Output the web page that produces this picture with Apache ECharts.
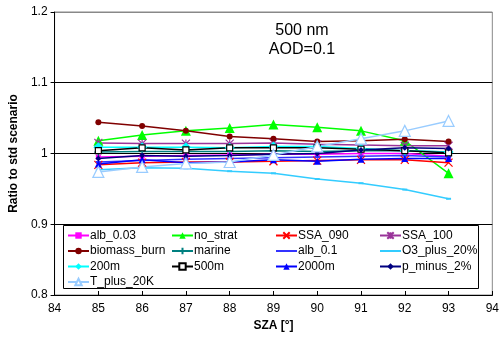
<!DOCTYPE html>
<html><head><meta charset="utf-8">
<script src="https://cdn.jsdelivr.net/npm/echarts@6/dist/echarts.min.js"></script>
<style>html,body{margin:0;padding:0;background:#fff}#c{width:502px;height:346px}</style>
</head><body><div id="c"></div>
<script>
var sza = [85, 86, 87, 88, 89, 90, 91, 92, 93];
var xTicks = [84, 85, 86, 87, 88, 89, 90, 91, 92, 93, 94];
var yTicks = [0.8, 0.9, 1.0, 1.1, 1.2];
var alb003 = [0.995, 0.996, 0.997, 0.998, 0.999, 0.999, 1.000, 1.000, 0.996];
var noStrat = [1.018, 1.026, 1.032, 1.036, 1.041, 1.037, 1.032, 1.018, 0.972];
var ssa090 = [0.984, 0.987, 0.988, 0.988, 0.989, 0.990, 0.991, 0.991, 0.987];
var ssa100 = [1.015, 1.014, 1.014, 1.014, 1.015, 1.013, 1.012, 1.011, 1.011];
var biomass = [1.044, 1.039, 1.032, 1.024, 1.021, 1.017, 1.018, 1.020, 1.017];
var marine = [1.002, 1.003, 1.003, 1.003, 1.004, 1.003, 1.004, 1.004, 1.002];
var alb01 = [0.988, 0.990, 0.992, 0.993, 0.994, 0.995, 0.996, 0.997, 0.995];
var o3plus = [0.977, 0.980, 0.979, 0.975, 0.972, 0.964, 0.958, 0.949, 0.936];
var h200 = [1.009, 1.009, 1.009, 1.008, 1.010, 1.010, 1.007, 1.004, 1.002];
var h500 = [1.004, 1.008, 1.005, 1.008, 1.008, 1.008, 1.006, 1.004, 1.001];
var h2000 = [0.985, 0.991, 0.987, 0.988, 0.991, 0.989, 0.992, 0.993, 0.993];
var pminus = [0.993, 0.997, 0.996, 0.997, 0.999, 1.000, 1.005, 1.008, 1.007];
var tplus = [0.974, 0.981, 0.986, 0.988, 0.998, 1.010, 1.021, 1.032, 1.046];

function pts(arr){ return sza.map(function(x,i){ return [x, arr[i]]; }); }
var X = 'path://M0,0L10,10M10,0L0,10';
var STAR = 'path://M0,0L10,10M10,0L0,10M5,0L5,10';
var PLUS = 'path://M5,0L5,10M0,5L10,5';

function mk(name, arr, color, symbol, size, extra){
  var s = {
    name: name, type: 'line', data: pts(arr), symbol: symbol, symbolSize: size,
    lineStyle: {color: color, width: 1.5},
    itemStyle: {color: color},
    emphasis: {disabled: true}, animation: false
  };
  if (extra) { for (var k in extra) s[k] = extra[k]; }
  return s;
}
var strokeSym = function(color){ return {color: 'none', borderColor: color, borderWidth: 1.2}; };

var series = [
  mk('alb_0.03', alb003, '#ff00ff', 'rect', 5),
  mk('no_strat', noStrat, '#00ff00', 'triangle', 10),
  mk('SSA_090', ssa090, '#ff0000', X, 8, {itemStyle: strokeSym('#ff0000')}),
  mk('SSA_100', ssa100, '#993399', STAR, 8, {itemStyle: strokeSym('#993399')}),
  mk('biomass_burn', biomass, '#800000', 'circle', 6),
  mk('marine', marine, '#008080', PLUS, 8, {itemStyle: strokeSym('#008080')}),
  mk('alb_0.1', alb01, '#3333ff', 'rect', [5, 2]),
  mk('O3_plus_20%', o3plus, '#33ccff', 'rect', [5, 2]),
  mk('200m', h200, '#00ffff', 'diamond', 10),
  mk('500m', h500, '#000000', 'rect', 6, {itemStyle: {color: '#fff', borderColor: '#000', borderWidth: 1.2}}),
  mk('2000m', h2000, '#0000ff', 'triangle', 7),
  mk('p_minus_2%', pminus, '#000080', 'diamond', 6),
  mk('T_plus_20K', tplus, '#99ccff', 'triangle', 11, {itemStyle: {color: '#fff', borderColor: '#99ccff', borderWidth: 1.2}})
];

var legendCols = [
  {left: 67, names: ['alb_0.03', 'biomass_burn', '200m', 'T_plus_20K']},
  {left: 171, names: ['no_strat', 'marine', '500m']},
  {left: 275, names: ['SSA_090', 'alb_0.1', '2000m']},
  {left: 379, names: ['SSA_100', 'O3_plus_20%', 'p_minus_2%']}
];
var lineOnly = {'alb_0.1': 1, 'O3_plus_20%': 1};
var legends = legendCols.map(function(c){
  return {
    data: c.names.map(function(n){
      return lineOnly[n] ? {name: n, itemStyle: {color: 'rgba(0,0,0,0)', borderWidth: 0}} : n;
    }),
    orient: 'vertical', left: c.left, top: 229, padding: 0,
    itemWidth: 21, itemHeight: 8, itemGap: 2.5, z: 10, selectedMode: false,
    textStyle: {fontFamily: 'Liberation Sans, Arial', fontSize: 12, color: '#000', lineHeight: 13, padding: [0,0,0,-4]}
  };
});

var chart = echarts.init(document.getElementById('c'), null, {renderer: 'canvas'});
chart.setOption({
  animation: false,
  backgroundColor: '#fff',
  grid: {left: 51.5, right: 6.5, top: 12, bottom: 51, show: true, borderColor: '#888', borderWidth: 1, backgroundColor: 'transparent'},
  legend: legends,
  graphic: [
    {type: 'rect', shape: {x: 63.5, y: 225.5, width: 415, height: 63}, style: {fill: '#fff', stroke: '#000', lineWidth: 1}, z: 5, silent: true},
    {type: 'text', x: 302, y: 30.5, style: {text: '500 nm', font: '16px Liberation Sans, Arial', fill: '#000', textAlign: 'center', textVerticalAlign: 'middle'}, z: 5},
    {type: 'text', x: 302, y: 49.5, style: {text: 'AOD=0.1', font: '16px Liberation Sans, Arial', fill: '#000', textAlign: 'center', textVerticalAlign: 'middle'}, z: 5}
  ],
  xAxis: {
    type: 'value', min: xTicks[0], max: xTicks[xTicks.length-1], interval: 1,
    name: 'SZA [°]', nameLocation: 'middle', nameGap: 24,
    nameTextStyle: {fontFamily: 'Liberation Sans, Arial', fontSize: 12, fontWeight: 'bold', color: '#000'},
    axisLine: {lineStyle: {color: '#000', width: 1}},
    axisTick: {inside: true, length: 4, lineStyle: {color: '#000'}},
    axisLabel: {fontFamily: 'Liberation Sans, Arial', fontSize: 12, color: '#000', margin: 8},
    splitLine: {show: false}
  },
  yAxis: {
    type: 'value', min: yTicks[0], max: yTicks[yTicks.length-1], interval: 0.1,
    name: 'Ratio to std scenario', nameLocation: 'middle', nameGap: 32,
    nameTextStyle: {fontFamily: 'Liberation Sans, Arial', fontSize: 12, fontWeight: 'bold', color: '#000'},
    axisLine: {show: true, lineStyle: {color: '#000', width: 1}},
    axisTick: {show: true, length: 4, lineStyle: {color: '#000'}},
    axisLabel: {fontFamily: 'Liberation Sans, Arial', fontSize: 12, color: '#000', margin: 7,
      formatter: function(v){ var r = Math.round(v*10)/10; return r === 1 ? '1' : r.toFixed(1); }},
    splitLine: {show: true, lineStyle: {color: ['#000', '#000', '#000', '#000', '#888'], width: 1}}
  },
  series: series
});
</script></body></html>
